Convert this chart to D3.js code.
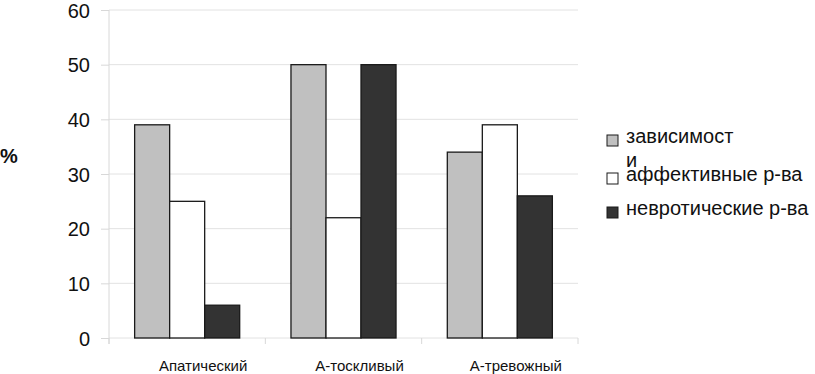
<!DOCTYPE html>
<html>
<head>
<meta charset="utf-8">
<script src="https://cdn.jsdelivr.net/npm/d3@7"></script>
<style>
  body { margin: 0; background: #fff; }
  text { font-family: "Liberation Sans", Arial, sans-serif; fill: #111; }
</style>
</head>
<body>
<div id="chart"></div>
<script>
// Data
var categories = ["Апатический", "А-тоскливый", "А-тревожный"];
var seriesNames = ["зависимости", "аффективные р-ва", "невротические р-ва"];
var dependence = [39, 50, 34];
var affective = [25, 22, 39];
var neurotic = [6, 50, 26];
var yTicks = [0, 10, 20, 30, 40, 50, 60];

var seriesValues = [dependence, affective, neurotic];
var colors = ["#c0c0c0", "#ffffff", "#333333"];

var svgWidth = 815;
var svgHeight = 374;
var margin = { top: 10, right: 237, bottom: 36, left: 109 };
var width = svgWidth - margin.left - margin.right;
var height = svgHeight - margin.top - margin.bottom;

var svg = d3.select("#chart")
  .append("svg")
  .attr("width", svgWidth)
  .attr("height", svgHeight);

var chartGroup = svg.append("g")
  .attr("transform", `translate(${margin.left}, ${margin.top})`);

// Scales
var xScale = d3.scaleBand()
  .domain(categories)
  .range([0, width])
  .paddingInner(0)
  .paddingOuter(0);

var groupWidth = xScale.bandwidth() * 0.672;
var xInner = d3.scaleBand()
  .domain(d3.range(seriesNames.length))
  .range([0, groupWidth]);

var yScale = d3.scaleLinear()
  .domain([0, 60])
  .range([height, 0]);

// Gridlines
chartGroup.append("g")
  .selectAll("line")
  .data(yTicks)
  .enter()
  .append("line")
  .attr("x1", 0)
  .attr("x2", width)
  .attr("y1", d => yScale(d))
  .attr("y2", d => yScale(d))
  .attr("stroke", "#e2e2e2")
  .attr("stroke-width", 1);

// Y axis
var leftAxis = d3.axisLeft(yScale)
  .tickValues(yTicks)
  .tickSize(8)
  .tickPadding(11);

var yAxisG = chartGroup.append("g").call(leftAxis);
yAxisG.select(".domain").attr("stroke", "#d8d8d8").attr("d", `M0,0V${height + 6}`);
yAxisG.selectAll(".tick line").attr("stroke", "#d8d8d8");
yAxisG.selectAll(".tick text")
  .attr("font-size", "20px")
  .attr("fill", "#111")
  .attr("dy", "0.36em");

// X axis: boundary ticks between categories
var boundaries = d3.range(categories.length + 1).map(i => i * xScale.step());
chartGroup.append("g")
  .selectAll("line")
  .data(boundaries)
  .enter()
  .append("line")
  .attr("x1", d => d)
  .attr("x2", d => d)
  .attr("y1", height)
  .attr("y2", height + 6)
  .attr("stroke", "#d8d8d8");

// Category labels
chartGroup.append("g")
  .selectAll("text")
  .data(categories)
  .enter()
  .append("text")
  .attr("x", d => xScale(d) + xScale.bandwidth() / 2 + 16)
  .attr("y", height + 33)
  .attr("text-anchor", "middle")
  .attr("font-size", "15px")
  .text(d => d);

// Bars
var groups = chartGroup.selectAll(".group")
  .data(categories)
  .enter()
  .append("g")
  .attr("class", "group")
  .attr("transform", d => `translate(${xScale(d) + (xScale.bandwidth() - groupWidth) / 2}, 0)`);

groups.selectAll("rect")
  .data((d, i) => seriesValues.map((s, j) => ({ series: j, value: s[i] })))
  .enter()
  .append("rect")
  .attr("x", d => xInner(d.series))
  .attr("width", xInner.bandwidth())
  .attr("y", d => yScale(d.value))
  .attr("height", d => height - yScale(d.value))
  .attr("fill", d => colors[d.series])
  .attr("stroke", "#1a1a1a")
  .attr("stroke-width", 1.3);

// Y label
svg.append("text")
  .attr("x", 0)
  .attr("y", 163)
  .attr("font-size", "20px")
  .attr("font-weight", "bold")
  .text("%");

// Legend
var legendY = [140, 178, 212];
var legend = svg.append("g").attr("transform", "translate(607, 0)");

legend.selectAll("rect")
  .data(seriesNames)
  .enter()
  .append("rect")
  .attr("x", 0)
  .attr("y", (d, i) => legendY[i] - 5)
  .attr("width", 11)
  .attr("height", 11)
  .attr("fill", (d, i) => colors[i])
  .attr("stroke", "#1a1a1a")
  .attr("stroke-width", 1);

legend.selectAll("text")
  .data(seriesNames)
  .enter()
  .append("text")
  .attr("x", 19)
  .attr("y", (d, i) => legendY[i] + 3)
  .attr("font-size", "20px")
  .each(function(d, i) {
    var t = d3.select(this);
    if (i === 0) {
      // wrapped like the original: last letter drops to the next line
      t.append("tspan").attr("x", 19).text(d.slice(0, -1));
      t.append("tspan").attr("x", 19).attr("dy", 24).text(d.slice(-1));
    } else {
      t.text(d);
    }
  });
</script>
</body>
</html>
